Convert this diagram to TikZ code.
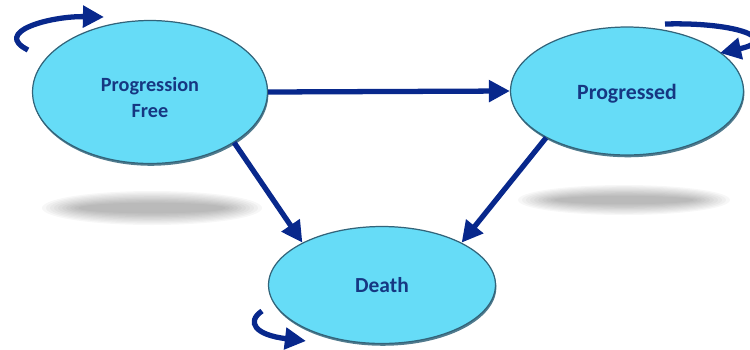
\documentclass[tikz,border=0pt]{standalone}
\usepackage{fontspec}
\setmainfont{Carlito}
\usetikzlibrary{positioning,shapes.geometric,arrows.meta,shadows}

\definecolor{statefill}{RGB}{102,220,247}
\definecolor{staterim}{RGB}{50,100,122}
\definecolor{arrowblue}{RGB}{8,40,140}
\definecolor{textblue}{RGB}{22,55,130}

\newcommand{\lowertext}[2]{\raisebox{-#1}[\height][\depth]{#2}}

\tikzset{
  state/.style={ellipse, draw=staterim, line width=0.7pt, fill=statefill,
    inner sep=0pt, text=textblue, align=center,
    drop shadow={shadow xshift=0.5pt, shadow yshift=-1.3pt, fill=staterim, opacity=0.85}},
  trans/.style={draw=arrowblue, line width=3pt, -{Triangle[length=12pt,width=12pt]}},
}

\begin{document}
\begin{tikzpicture}[x=0.02cm,y=-0.02cm]
  \clip (0,0) rectangle (750,349);
  \useasboundingbox (0,0) rectangle (750,349);

  % soft floor shadows
  \foreach \k in {0,...,9} {
    \fill[black, opacity=0.03] (152,208) ellipse [x radius={110-4*\k}, y radius={17-1.3*\k}];
    \fill[black, opacity=0.03] (624,200) ellipse [x radius={106-4*\k}, y radius={15-1.2*\k}];
  }

  \node[state, minimum width=4.7cm, minimum height=2.86cm,
        font=\bfseries\fontsize{11.5}{14.7}\selectfont] (pf) at (150,92)
        {\lowertext{4pt}{\begin{tabular}{@{}c@{}}Progression\\Free\end{tabular}}};
  \node[state, minimum width=4.66cm, minimum height=2.56cm,
        font=\bfseries\fontsize{12.4}{15}\selectfont] (prog) at (627,91)
        {\lowertext{1.5pt}{Progressed}};
  \node[state, minimum width=4.54cm, minimum height=2.34cm,
        font=\bfseries\fontsize{12.2}{15}\selectfont] (death) at (382,285) {Death};

  % loose ends of the self loops
  \coordinate (pf-tail) at (28,50);
  \coordinate (pf-head) at (104,17);
  \coordinate (prog-tail) at (665,24);
  \coordinate (prog-head) at (720,53);
  \coordinate (death-tail) at (262,311);
  \coordinate (death-head) at (306,341);

  \draw[trans] (pf.east) -- (prog.west);
  \draw[trans] (pf.-31) -- (death.152);
  \draw[trans] (prog.210) -- (death.28);

  \draw[trans] (pf-tail) .. controls (-8,32) and (50,16) .. (pf-head);
  \draw[trans] (prog-tail) .. controls (740,22) and (780,40) .. (prog-head);
  \draw[trans] (death-tail) .. controls (246,322) and (255,335) .. (death-head);
\end{tikzpicture}
\end{document}
